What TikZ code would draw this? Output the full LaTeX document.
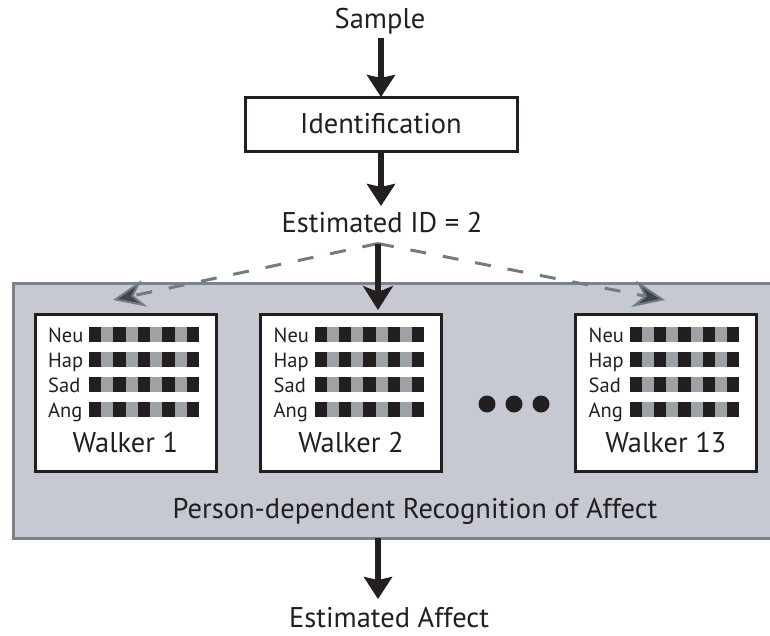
\documentclass[tikz,border=0pt]{standalone}
\usepackage{fontspec}
\setmainfont{PT Sans}
\usetikzlibrary{arrows.meta,calc}
\definecolor{ink}{HTML}{231F20}
\definecolor{sqgray}{HTML}{9DA2A7}
\definecolor{panel}{HTML}{C6C9D1}
\definecolor{panelline}{HTML}{7D838A}
\definecolor{dashcol}{HTML}{737B82}
\definecolor{headfill}{HTML}{3E4748}
\newcommand{\walkerrows}[1]{%
  \foreach \lab [count=\i] in {Neu,Hap,Sad,Ang}{%
    \node[rowlab, anchor=base west] (#1-\lab) at ($(#1.north west)+(13,28+25*\i-25)$) {\lab};
    \foreach \k in {0,2,4,6,8}{\fill[ink] ($(#1.north west)+(54+12.22*\k,13+25*\i-25)$) rectangle ++(12.22,15);}
    \foreach \k in {1,3,5,7}{\fill[sqgray] ($(#1.north west)+(54+12.22*\k,13+25*\i-25)$) rectangle ++(12.22,15);}
  }}
\begin{document}
\begin{tikzpicture}[x=1pt,y=-1pt,
  lbl/.style={inner sep=0pt, font=\fontsize{28.5}{31}\selectfont, text=ink},
  rowlab/.style={inner sep=0pt, font=\fontsize{20.5}{22}\selectfont, text=ink},
  idbox/.style={draw=ink, line width=3pt, fill=white, inner sep=0pt, outer sep=0pt,
    minimum width=272pt, minimum height=54pt, font=\fontsize{28.5}{31}\selectfont, text=ink},
  walker/.style={draw=ink, line width=3pt, fill=white, inner sep=0pt, outer sep=0pt,
    minimum width=181pt, minimum height=157pt},
  recogbox/.style={draw=panelline, fill=panel, line width=3pt, inner sep=0pt, outer sep=0pt,
    minimum width=777pt, minimum height=255pt},
  bigarrow/.style={draw=ink, line width=5.5pt, -{Stealth[length=22pt, width=28pt, inset=3pt]}},
  midarrow/.style={draw=ink, line width=5.5pt, -{Stealth[length=24pt, width=30pt, inset=6pt]}},
  dasharrow/.style={draw=dashcol, line width=3pt, dash pattern=on 16pt off 17pt,
    -{Stealth[length=32pt, width=27pt, inset=11pt, fill=headfill, line width=2pt]}},
]
\useasboundingbox (0,0) rectangle (770,635);
\clip (0,0) rectangle (770,635);

% texts and top box
\node[lbl, anchor=base] (sample) at (380,28) {Sample};
\node[idbox] (ident) at (381,124) {Identification};
\node[lbl, anchor=base] (estid) at (382,232) {Estimated ID = 2};
\coordinate (apex) at ($(estid.south)+(-4,11)$);

% panel
\node[recogbox, anchor=north west] (recog) at (13,283) {};
\node[lbl, anchor=base] (recoglab) at (415,518) {Person-dependent Recognition of Affect};

% walkers
\node[walker] (w1) at (125.5,392.5) {};
\node[walker] (w2) at (351,392.5) {};
\node[walker] (w13) at (666,392.5) {};
\walkerrows{w1}
\walkerrows{w2}
\walkerrows{w13}
\node[lbl, anchor=base] (w1lab) at (w1 |- 0,452) {Walker 1};
\node[lbl, anchor=base] (w2lab) at (w2 |- 0,452) {Walker 2};
\node[lbl, anchor=base] (w13lab) at (w13 |- 0,452) {Walker 13};

% dots
\fill[ink] (487,404) circle (8.5pt) (514,404) circle (8.5pt) (541,404) circle (8.5pt);

% output
\node[lbl, anchor=base] (affect) at (389,627) {Estimated Affect};

% connectors
\draw[bigarrow] ([yshift=-4.5pt]sample.south -| ident.north) -- (ident.north);
\draw[bigarrow] (ident.south) -- ([yshift=5.5pt]estid.north -| ident.south);
\coordinate (lt) at (113,300);
\coordinate (rt) at (665,300);
\draw[dasharrow] (apex) -- (lt);
\draw[dasharrow] (apex) -- (rt);
\draw[midarrow] (apex) -- ($(apex |- w2.north)+(0,-4)$);
\draw[bigarrow] (apex |- recog.south) -- ([yshift=7.5pt]affect.north -| apex);
\end{tikzpicture}
\end{document}
